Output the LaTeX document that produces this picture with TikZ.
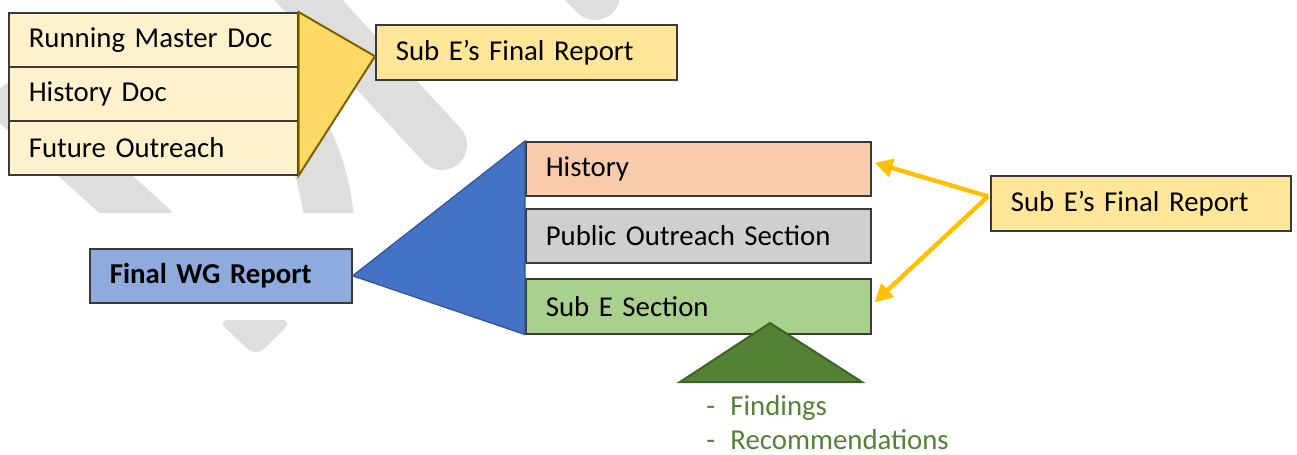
\documentclass[tikz,border=0pt]{standalone}
\usepackage{fontspec}
\setmainfont{Carlito}
\usetikzlibrary{arrows.meta}

\definecolor{wmgrey}{HTML}{DEDEDE}
\definecolor{boxline}{HTML}{3A3A3A}
\definecolor{docfill}{HTML}{FFF2CC}
\definecolor{repfill}{HTML}{FFE699}
\definecolor{yeltri}{HTML}{FFD966}
\definecolor{yeledge}{HTML}{7F6000}
\definecolor{wgfill}{HTML}{8FAADC}
\definecolor{bluetri}{HTML}{4472C4}
\definecolor{blueedge}{HTML}{2F5597}
\definecolor{histfill}{HTML}{F8CBAD}
\definecolor{pubfill}{HTML}{D0CECE}
\definecolor{secfill}{HTML}{A9D18E}
\definecolor{greentri}{HTML}{548235}
\definecolor{greenedge}{HTML}{3D6128}
\definecolor{feedorange}{HTML}{FFC000}

\begin{document}
\begin{tikzpicture}[x=0.5pt,y=-0.5pt,
		box/.style = {draw=boxline, line width=0.8pt, anchor=north west, inner xsep=10pt, inner ysep=0pt,
			minimum height=27pt, align=left, font=\fontsize{14.4}{17}\selectfont},
		wm/.style = {draw=wmgrey, line width=25pt},
		feed/.style = {draw=feedorange, line width=2.2pt, -{Triangle[length=9pt,width=9pt]}},
		item/.style = {anchor=base west, inner sep=0pt, text=greentri, font=\fontsize{14.4}{17}\selectfont}]
		\useasboundingbox (0,0) rectangle (1297,455);

		% watermark in the background
		\begin{scope}
			\clip (0,0) rectangle (1297,212);
			\draw[wm, line cap=round] (18,106) -- (150,225);
			\draw[wm, line cap=round] (290,-20) -- (442,145);
			\draw[wm, line cap=round] (540,-60) -- (595,-5);
			\draw[wm] (330,230) .. controls (325,160) and (300,110) .. (250,60);
		\end{scope}
		\fill[wmgrey, rounded corners=6pt] (217,320) -- (293,320) -- (256,357) -- cycle;

		% source documents
		\node [box, fill=docfill, text width=124.5pt] (run) at (8,12) {Running Master Doc};
		\node [box, fill=docfill, text width=124.5pt] (hdoc) at (8,66) {History Doc};
		\node [box, fill=docfill, text width=124.5pt] (fut) at (8,120) {Future Outreach};
		\node [box, fill=repfill, text width=130.5pt, minimum height=27.5pt] (top) at (375,24) {Sub E’s Final Report};
		\draw [fill=yeltri, draw=yeledge, line width=1pt] (run.north east) -- (fut.south east) -- ([yshift=-2pt]top.west) -- cycle;

		% final report and its sections
		\node [box, fill=wgfill, text width=111pt] (wg) at (89,248) {\textbf{Final WG Report}};
		\node [box, fill=histfill, text width=152.5pt] (hist) at (525,141) {History};
		\node [box, fill=pubfill, text width=152.5pt] (pub) at (525,208) {Public Outreach Section};
		\node [box, fill=secfill, text width=152.5pt, minimum height=27.5pt] (sec) at (525,278) {Sub E Section};
		\draw [fill=bluetri, draw=blueedge, line width=0.6pt] (hist.north west) -- (sec.south west) -- (wg.east) -- cycle;

		\draw [fill=greentri, draw=greenedge, line width=1pt] (770,323) -- (862,382) -- (680,382) -- cycle;
		\node [item] (find) at (706,415) {\makebox[12pt][l]{-}Findings};
		\node [item] (rec) at (706,449) {\makebox[12pt][l]{-}Recommendations};

		% report fed back into the sections
		\node [box, fill=repfill, text width=130pt, minimum height=27.5pt] (right) at (990,175) {Sub E’s Final Report};
		\draw [feed] ([shift={(-2,-7)}]right.west) -- ([shift={(3,-6)}]hist.east);
		\draw [feed] ([shift={(-2,-7)}]right.west) -- ([shift={(3,-4)}]sec.east);
	\end{tikzpicture}
\end{document}
